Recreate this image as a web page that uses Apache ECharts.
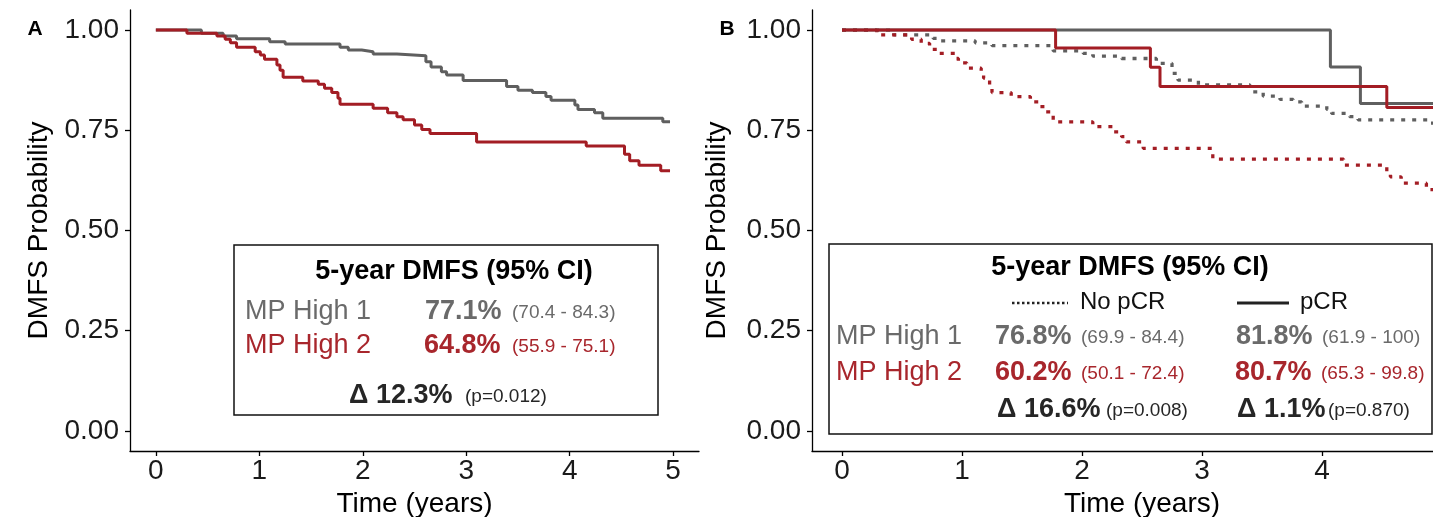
<!DOCTYPE html>
<html>
<head>
<meta charset="utf-8">
<script src="https://cdn.jsdelivr.net/npm/echarts@6/dist/echarts.min.js"></script>
<style>html,body{margin:0;padding:0;background:#fff}#c{width:1433px;height:517px}</style>
</head>
<body>
<div id="c"></div>
<script>
// ---- Data ----
const xTicks = [0, 1, 2, 3, 4, 5];
const yTicks = [0, 0.25, 0.5, 0.75, 1];

// Panel A
const timeA1 = [0, 0.44, 0.65, 0.78, 1.10, 1.25, 1.78, 1.86, 1.99, 2.10, 2.33, 2.61, 2.66, 2.76, 2.81, 2.97, 3.39, 3.50, 3.64, 3.77, 3.82, 4.05, 4.08, 4.24, 4.32, 4.90, 4.97];
const survA1 = [1, 0.992, 0.985, 0.978, 0.971, 0.965, 0.957, 0.950, 0.946, 0.940, 0.936, 0.921, 0.908, 0.896, 0.888, 0.874, 0.859, 0.850, 0.844, 0.834, 0.825, 0.813, 0.802, 0.794, 0.780, 0.771, 0.771];
const timeA2 = [0, 0.30, 0.59, 0.67, 0.72, 0.78, 0.96, 1.01, 1.05, 1.17, 1.20, 1.23, 1.42, 1.57, 1.63, 1.70, 1.76, 1.78, 2.10, 2.24, 2.33, 2.39, 2.50, 2.57, 2.65, 3.10, 4.16, 4.53, 4.58, 4.67, 4.88, 4.97];
const survA2 = [1, 0.992, 0.985, 0.977, 0.968, 0.957, 0.946, 0.938, 0.927, 0.913, 0.900, 0.882, 0.873, 0.865, 0.855, 0.844, 0.830, 0.815, 0.805, 0.794, 0.784, 0.776, 0.763, 0.752, 0.742, 0.721, 0.711, 0.690, 0.674, 0.663, 0.649, 0.649];

// Panel B - No pCR (dotted)
const timeB1n = [0, 0.43, 0.76, 0.79, 1.11, 1.25, 1.76, 2.01, 2.09, 2.33, 2.62, 2.75, 2.80, 2.97, 3.40, 3.51, 3.65, 3.76, 3.83, 4.04, 4.08, 4.23, 4.30, 4.90, 5.0];
const survB1n = [1, 0.988, 0.979, 0.973, 0.968, 0.961, 0.948, 0.942, 0.935, 0.929, 0.917, 0.892, 0.875, 0.863, 0.846, 0.835, 0.827, 0.821, 0.810, 0.802, 0.792, 0.784, 0.776, 0.768, 0.768];
const timeB2n = [0, 0.29, 0.58, 0.66, 0.73, 0.79, 0.94, 0.97, 1.04, 1.16, 1.18, 1.23, 1.25, 1.41, 1.57, 1.64, 1.70, 1.76, 2.09, 2.26, 2.33, 2.37, 2.51, 3.09, 4.18, 4.54, 4.57, 4.66, 4.87, 5.0];
const survB2n = [1, 0.988, 0.977, 0.967, 0.952, 0.942, 0.929, 0.918, 0.905, 0.894, 0.880, 0.855, 0.844, 0.834, 0.821, 0.809, 0.796, 0.771, 0.759, 0.746, 0.734, 0.721, 0.705, 0.678, 0.663, 0.647, 0.634, 0.618, 0.602, 0.602];
// Panel B - pCR (solid)
const timeB1p = [0, 4.07, 4.32, 5.0];
const survB1p = [1, 0.908, 0.817, 0.817];
const timeB2p = [0, 1.78, 2.57, 2.65, 4.54, 5.0];
const survB2p = [1, 0.955, 0.907, 0.859, 0.807, 0.807];

// Legend / annotation texts
const groupNames = ['MP High 1', 'MP High 2'];
const statsA = [['77.1%', '(70.4 - 84.3)'], ['64.8%', '(55.9 - 75.1)']];
const deltaA = ['Δ 12.3%', '(p=0.012)'];
const statsBno = [['76.8%', '(69.9 - 84.4)'], ['60.2%', '(50.1 - 72.4)']];
const statsBp = [['81.8%', '(61.9 - 100)'], ['80.7%', '(65.3 - 99.8)']];
const deltaBno = ['Δ 16.6%', '(p=0.008)'];
const deltaBp = ['Δ 1.1%', '(p=0.870)'];
const boxTitle = '5-year DMFS (95% CI)';

// ---- Styling ----
const FONT = 'Liberation Sans';
const GREY = '#5f5f5f';
const RED = '#a31d24';
const GREY_T = '#6a6a6a';
const RED_T = '#a8262c';
const DARK = '#262626';

function pairs(t, s) { return t.map((v, i) => [v, s[i]]); }

function xAxis(gi) {
  return {
    type: 'value', gridIndex: gi, min: -0.25, max: 5.25,
    name: 'Time (years)', nameLocation: 'middle', nameGap: 36,
    nameTextStyle: { fontFamily: FONT, fontSize: 28, color: '#000' },
    axisLine: { show: true, onZero: false, lineStyle: { color: '#000', width: 1.3 } },
    axisTick: { show: true, length: 5, customValues: xTicks, lineStyle: { color: '#000', width: 1.3 } },
    axisLabel: { customValues: xTicks, fontFamily: FONT, fontSize: 28, color: '#1a1a1a', margin: 6 },
    splitLine: { show: false }
  };
}
function yAxis(gi, gap) {
  return {
    type: 'value', gridIndex: gi, min: -0.05, max: 1.05,
    name: 'DMFS Probability', nameLocation: 'middle', nameGap: gap,
    nameTextStyle: { fontFamily: FONT, fontSize: 28, color: '#000' },
    axisLine: { show: true, onZero: false, lineStyle: { color: '#000', width: 1.3 } },
    axisTick: { show: true, length: 5, customValues: yTicks, lineStyle: { color: '#000', width: 1.3 } },
    axisLabel: { customValues: yTicks, fontFamily: FONT, fontSize: 28, color: '#1a1a1a', margin: 11,
      formatter: v => v.toFixed(2) },
    splitLine: { show: false }
  };
}
function km(name, xi, t, s, color, dotted, z) {
  return {
    type: 'line', name, xAxisIndex: xi, yAxisIndex: xi, step: 'end', showSymbol: false, symbol: 'none',
    data: pairs(t, s), z: z || 3, silent: true, animation: false,
    lineStyle: { color, width: dotted ? 3.3 : 3, type: dotted ? [4, 7] : 'solid', cap: 'butt' }
  };
}

function txt(text, x, y, size, color, bold, align) {
  return { type: 'text', z: 100, style: { text, x, y, fill: color, align: align || 'center', verticalAlign: 'middle',
    font: (bold ? 'bold ' : '') + size + 'px "' + FONT + '"' } };
}

const graphics = [
  txt('A', 35, 29, 21, '#000', true),
  txt('B', 727, 29, 21, '#000', true),
  // Box A
  { type: 'rect', z: 90, shape: { x: 234, y: 245, width: 424, height: 170 }, style: { fill: '#fff', stroke: '#111', lineWidth: 1.5 } },
  txt(boxTitle, 454, 272, 27, '#000', true),
  txt(groupNames[0], 245, 312, 27, GREY_T, false, 'left'),
  txt(statsA[0][0], 425, 312, 27, GREY_T, true, 'left'),
  txt(statsA[0][1], 512, 313, 19, GREY_T, false, 'left'),
  txt(groupNames[1], 245, 346, 27, RED_T, false, 'left'),
  txt(statsA[1][0], 424, 346, 27, RED_T, true, 'left'),
  txt(statsA[1][1], 512, 347, 19, RED_T, false, 'left'),
  txt(deltaA[0], 349, 396, 27, DARK, true, 'left'),
  txt(deltaA[1], 465, 397, 19, DARK, false, 'left'),
  // Box B
  { type: 'rect', z: 90, shape: { x: 829, y: 244, width: 603, height: 190 }, style: { fill: '#fff', stroke: '#111', lineWidth: 1.5 } },
  txt(boxTitle, 1130, 268, 27, '#000', true),
  { type: 'line', z: 100, shape: { x1: 1012, y1: 303, x2: 1068, y2: 303 }, style: { stroke: '#222', lineWidth: 2.5, lineDash: [2.5, 2.5] } },
  txt('No pCR', 1080, 302, 24, '#111', false, 'left'),
  { type: 'line', z: 100, shape: { x1: 1237, y1: 303, x2: 1289, y2: 303 }, style: { stroke: '#222', lineWidth: 3 } },
  txt('pCR', 1300, 302, 24, '#111', false, 'left'),
  txt(groupNames[0], 836, 337, 27, GREY_T, false, 'left'),
  txt(statsBno[0][0], 995, 337, 27, GREY_T, true, 'left'),
  txt(statsBno[0][1], 1081, 338, 19, GREY_T, false, 'left'),
  txt(statsBp[0][0], 1236, 337, 27, GREY_T, true, 'left'),
  txt(statsBp[0][1], 1322, 338, 19, GREY_T, false, 'left'),
  txt(groupNames[1], 836, 373, 27, RED_T, false, 'left'),
  txt(statsBno[1][0], 995, 373, 27, RED_T, true, 'left'),
  txt(statsBno[1][1], 1081, 374, 19, RED_T, false, 'left'),
  txt(statsBp[1][0], 1235, 373, 27, RED_T, true, 'left'),
  txt(statsBp[1][1], 1321, 374, 19, RED_T, false, 'left'),
  txt(deltaBno[0], 997, 410, 27, DARK, true, 'left'),
  txt(deltaBno[1], 1106, 411, 19, DARK, false, 'left'),
  txt(deltaBp[0], 1237, 410, 27, DARK, true, 'left'),
  txt(deltaBp[1], 1328, 411, 19, DARK, false, 'left')
];

const chart = echarts.init(document.getElementById('c'), null, { renderer: 'canvas' });
chart.setOption({
  animation: false,
  backgroundColor: '#fff',
  grid: [
    { left: 130, top: 10, width: 569, height: 441, outerBoundsMode: 'none', containLabel: false },
    { left: 812, top: 10, width: 660, height: 441, outerBoundsMode: 'none', containLabel: false }
  ],
  xAxis: [xAxis(0), xAxis(1)],
  yAxis: [yAxis(0, 77), yAxis(1, 81)],
  series: [
    km('A MP High 1', 0, timeA1, survA1, GREY, false),
    km('A MP High 2', 0, timeA2, survA2, RED, false, 4),
    km('B MP High 1 No pCR', 1, timeB1n, survB1n, GREY, true),
    km('B MP High 2 No pCR', 1, timeB2n, survB2n, RED, true),
    km('B MP High 1 pCR', 1, timeB1p, survB1p, GREY, false, 5),
    km('B MP High 2 pCR', 1, timeB2p, survB2p, RED, false, 6)
  ],
  graphic: graphics
});
</script>
</body>
</html>
